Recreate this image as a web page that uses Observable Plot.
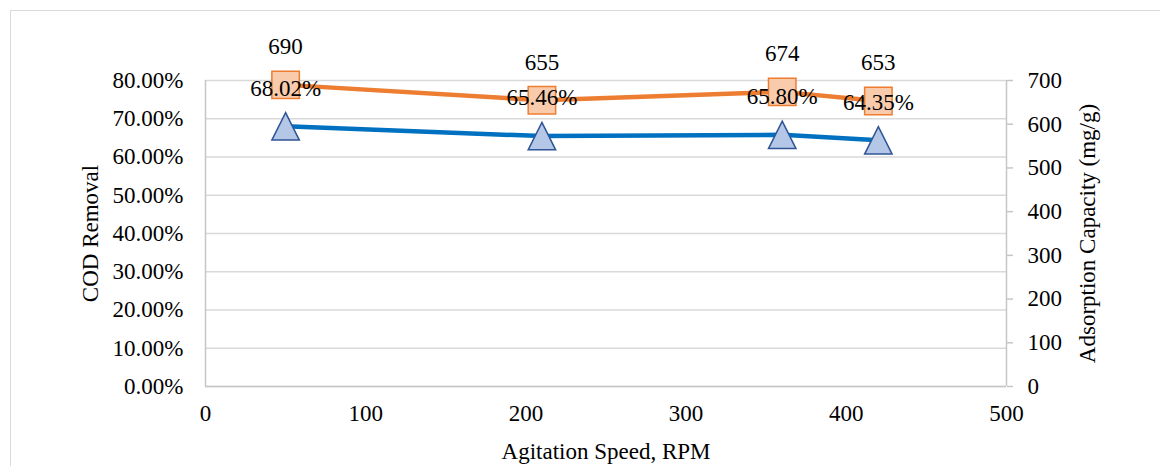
<!DOCTYPE html>
<html><head><meta charset="utf-8">
<script src="https://cdn.jsdelivr.net/npm/d3@7"></script>
<script src="https://cdn.jsdelivr.net/npm/@observablehq/plot@0.6"></script>
<style>
html,body{margin:0;padding:0;background:#fff;overflow:hidden;}
#wrap{position:relative;width:1160px;height:466px;overflow:hidden;}
#frame{position:absolute;left:10px;top:10px;width:1200px;height:500px;border:1px solid #d9d9d9;}
#chart{position:absolute;left:0;top:0;}
#chart svg, #chart svg text{font-family:'Liberation Serif','Times New Roman',serif !important;}
</style></head><body>
<div id="wrap"><div id="frame"></div><div id="chart"></div></div>
<script>
// Data
const speeds = [50, 210, 360, 420];
const codRemoval = [0.6802, 0.6546, 0.6580, 0.6435];
const adsorption = [690, 655, 674, 653];
const xTicks = [0, 100, 200, 300, 400, 500];
const leftTicks = [0, 0.1, 0.2, 0.3, 0.4, 0.5, 0.6, 0.7, 0.8];
const rightTicks = [0, 100, 200, 300, 400, 500, 600, 700];

const leftMax = leftTicks[leftTicks.length - 1];
const rightMax = rightTicks[rightTicks.length - 1];
const toLeft = v => v / rightMax * leftMax;

const cod = speeds.map((x, i) => ({x, y: codRemoval[i]}));
const ads = speeds.map((x, i) => ({x, y: toLeft(adsorption[i]), v: adsorption[i]}));

// triangle centred on its bounding box (like Excel markers)
const triangle = {
  draw(ctx, size) {
    const s = Math.sqrt(size);
    const h = s;
    ctx.moveTo(0, -h / 2);
    ctx.lineTo(s / 2, h / 2);
    ctx.lineTo(-s / 2, h / 2);
    ctx.closePath();
  }
};

const FONT = 23;
const FAMILY = "'Liberation Serif', 'Times New Roman', serif";
const chart = Plot.plot({
  width: 1160,
  height: 466,
  marginLeft: 205,
  marginRight: 154,
  marginTop: 80,
  marginBottom: 80,
  style: {fontFamily: FAMILY, fontSize: FONT + "px", color: "#000", background: "transparent"},
  x: {domain: [xTicks[0], xTicks[xTicks.length - 1]]},
  y: {domain: [leftTicks[0], leftMax]},
  marks: [
    Plot.gridY(leftTicks, {stroke: "#d9d9d9", strokeOpacity: 1, strokeWidth: 1.4}),
    Plot.ruleX([xTicks[0], xTicks[xTicks.length - 1]], {stroke: "#c6c6c6", strokeWidth: 1.5}),
    Plot.ruleY([leftTicks[0]], {stroke: "#c6c6c6", strokeWidth: 1.5}),
    Plot.axisY(leftTicks, {
      anchor: "left", tickSize: 0, tickPadding: 22, fontSize: FONT, fontFamily: FAMILY, fontVariant: "normal", fill: "#000",
      tickFormat: d => (d * 100).toFixed(2) + "%",
      label: "COD Removal", labelAnchor: "center", labelOffset: 124, labelArrow: "none"
    }),
    Plot.axisY(rightTicks.map(toLeft), {
      anchor: "right", tickSize: 6, tickPadding: 15, fontSize: FONT, fontFamily: FAMILY, fontVariant: "normal", fill: "#000", stroke: "#c6c6c6", strokeWidth: 1.5,
      tickFormat: d => String(Math.round(d / leftMax * rightMax)),
      label: "Adsorption Capacity (mg/g)", labelAnchor: "center", labelOffset: 88, labelArrow: "none"
    }),
    Plot.axisX(xTicks, {
      anchor: "bottom", tickSize: 0, tickPadding: 18, fontSize: FONT, fontFamily: FAMILY, fontVariant: "normal", fill: "#000",
      tickFormat: d => String(d),
      label: "Agitation Speed, RPM", labelAnchor: "center", labelOffset: 72, labelArrow: "none"
    }),
    Plot.line(cod, {x: "x", y: "y", stroke: "#0070C0", strokeWidth: 4.5}),
    Plot.line(ads, {x: "x", y: "y", stroke: "#ED7D31", strokeWidth: 4.5}),
    Plot.dot(cod, {x: "x", y: "y", symbol: triangle, r: 15.5, fill: "#B4C7E7", stroke: "#2F5597", strokeWidth: 1.5}),
    Plot.dot(ads, {x: "x", y: "y", symbol: "square", r: 15.5, fill: "#F8CBAD", stroke: "#ED7D31", strokeWidth: 1.5}),
    Plot.text(cod, {x: "x", y: "y", text: d => (d.y * 100).toFixed(2) + "%", dy: -38, fontSize: FONT, fontFamily: FAMILY, fill: "#000"}),
    Plot.text(ads, {x: "x", y: "y", text: d => String(d.v), dy: -38, fontSize: FONT, fontFamily: FAMILY, fill: "#000"})
  ]
});
document.getElementById("chart").appendChild(chart);
</script>
</body></html>
